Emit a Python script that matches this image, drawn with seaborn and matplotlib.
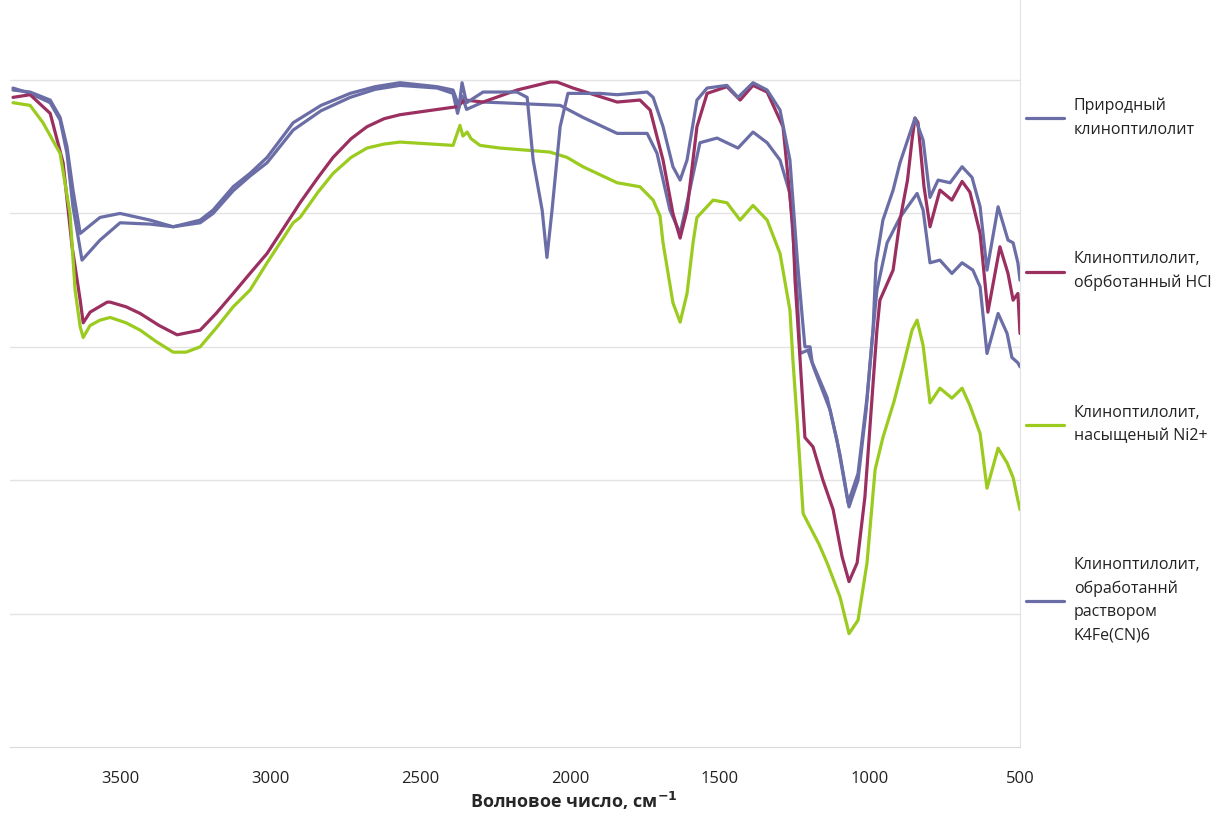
import pandas as pd
import numpy as np
import matplotlib
matplotlib.use('Agg')
import matplotlib.pyplot as plt
import seaborn as sns

# ==================== данные (волновое число, пропускание) ====================
wn_ni = [3857, 3800, 3757, 3700, 3667, 3650, 3633, 3623, 3600, 3567, 3533, 3480, 3433, 3380,
         3323, 3280, 3233, 3180, 3123, 3067, 3010, 2923, 2900, 2840, 2790, 2730, 2677, 2620,
         2567, 2390, 2367, 2357, 2343, 2330, 2300, 2233, 2067, 2010, 1957, 1843, 1767, 1723,
         1700, 1690, 1657, 1633, 1610, 1590, 1577, 1523, 1477, 1433, 1390, 1343, 1300, 1267,
         1257, 1243, 1223, 1200, 1170, 1143, 1100, 1070, 1040, 1010, 983, 957, 920, 890, 860,
         843, 823, 800, 767, 727, 693, 667, 633, 610, 573, 543, 523, 507, 500]
t_ni = [48.3, 48.1, 46.8, 44.5, 40.0, 34.25, 31.5, 30.7, 31.6, 32.0, 32.2, 31.8, 31.25, 30.4,
        29.6, 29.6, 30.0, 31.4, 33.0, 34.25, 36.3, 39.3, 39.7, 41.6, 43.0, 44.2, 44.9, 45.2,
        45.35, 45.1, 46.6, 45.8, 46.1, 45.6, 45.1, 44.9, 44.6, 44.2, 43.5, 42.3, 42.0, 41.0,
        39.8, 37.8, 33.3, 31.85, 34.0, 37.8, 39.7, 41.0, 40.8, 39.5, 40.6, 39.5, 37.0, 32.75,
        29.0, 24.5, 17.5, 16.5, 15.2, 13.8, 11.25, 8.5, 9.5, 13.8, 20.8, 23.2, 25.9, 28.5,
        31.25, 32.0, 30.1, 25.8, 26.9, 26.15, 26.9, 25.6, 23.5, 19.4, 22.4, 21.3, 20.2, 18.5,
        17.8]

wn_hcl = [3857, 3800, 3733, 3690, 3660, 3633, 3623, 3600, 3543, 3533, 3480, 3433, 3370, 3310,
          3233, 3180, 3123, 3067, 3010, 2923, 2900, 2840, 2790, 2730, 2677, 2620, 2567, 2457,
          2377, 2350, 2290, 2177, 2067, 2043, 1990, 1843, 1767, 1733, 1690, 1657, 1633, 1610,
          1577, 1543, 1477, 1433, 1390, 1343, 1290, 1257, 1250, 1233, 1217, 1190, 1157, 1123,
          1093, 1070, 1043, 1017, 997, 977, 967, 923, 900, 875, 860, 850, 840, 820, 800, 767,
          727, 693, 667, 633, 607, 567, 540, 523, 507, 500]
t_hcl = [48.7, 48.9, 47.5, 43.8, 37.5, 33.5, 31.8, 32.6, 33.35, 33.35, 33.0, 32.5, 31.6, 30.9,
         31.25, 32.5, 34.0, 35.5, 37.0, 40.0, 40.8, 42.7, 44.2, 45.6, 46.5, 47.1, 47.4, 47.75,
         48.0, 48.5, 48.35, 49.25, 49.85, 49.85, 49.4, 48.35, 48.5, 47.75, 44.0, 40.0, 38.15,
         40.25, 46.5, 49.0, 49.5, 48.5, 49.6, 49.1, 46.5, 39.0, 35.0, 29.0, 23.2, 22.5, 20.0,
         17.8, 14.25, 12.4, 13.8, 18.75, 25.0, 31.25, 33.5, 35.75, 39.5, 42.5, 45.5, 47.15,
         46.8, 42.0, 39.0, 41.75, 41.0, 42.4, 41.6, 38.5, 32.6, 37.5, 35.5, 33.5, 34.0, 31.0]

wn_cn = [3857, 3800, 3733, 3700, 3677, 3657, 3633, 3567, 3500, 3400, 3323, 3233, 3190, 3123,
         3067, 3010, 2923, 2830, 2733, 2650, 2567, 2443, 2390, 2370, 2360, 2345, 2290, 2177,
         2143, 2123, 2093, 2077, 2060, 2033, 2007, 1900, 1843, 1743, 1723, 1690, 1657, 1633,
         1610, 1577, 1543, 1477, 1440, 1390, 1343, 1300, 1267, 1243, 1227, 1217, 1200, 1193,
         1143, 1110, 1073, 1040, 1010, 990, 980, 957, 923, 900, 850, 823, 800, 773, 733, 693,
         660, 633, 610, 573, 540, 523, 507, 500]
t_cn = [49.25, 49.1, 48.5, 47.2, 45.0, 41.75, 38.5, 39.7, 40.0, 39.5, 39.0, 39.5, 40.25, 42.0,
        43.0, 44.2, 46.8, 48.1, 49.0, 49.5, 49.8, 49.5, 49.25, 48.0, 49.8, 48.3, 49.1, 49.1,
        48.7, 44.0, 40.25, 36.7, 40.25, 46.5, 49.0, 49.0, 48.9, 49.1, 48.7, 46.5, 43.5, 42.5,
        44.0, 48.5, 49.4, 49.6, 48.7, 49.8, 49.25, 47.75, 44.0, 36.7, 32.5, 30.0, 30.0, 28.85,
        26.2, 23.0, 18.3, 20.5, 26.2, 31.25, 36.3, 39.5, 41.75, 43.8, 47.15, 45.5, 41.2, 42.5,
        42.3, 43.5, 42.7, 40.5, 35.75, 40.5, 38.0, 37.8, 36.3, 35.0]

wn_nat = [3857, 3800, 3733, 3700, 3677, 3657, 3627, 3567, 3500, 3400, 3323, 3233, 3190, 3123,
          3067, 3010, 2923, 2830, 2733, 2650, 2567, 2443, 2390, 2375, 2360, 2345, 2290, 2233,
          2033, 1957, 1843, 1743, 1710, 1667, 1633, 1610, 1567, 1510, 1440, 1390, 1343, 1300,
          1267, 1243, 1233, 1207, 1187, 1133, 1100, 1070, 1040, 1013, 993, 977, 943, 900, 843,
          823, 800, 767, 727, 693, 657, 633, 610, 573, 543, 527, 507, 500]
t_nat = [49.4, 49.0, 48.3, 47.0, 44.5, 40.5, 36.5, 38.0, 39.3, 39.2, 39.0, 39.3, 40.0, 41.7,
         42.8, 43.8, 46.25, 47.7, 48.7, 49.3, 49.6, 49.4, 49.0, 47.5, 48.8, 47.8, 48.35, 48.3,
         48.1, 47.2, 46.0, 46.0, 44.5, 40.25, 38.5, 40.8, 45.3, 45.65, 44.9, 46.1, 45.3, 44.0,
         41.5, 34.0, 29.5, 29.75, 28.4, 25.25, 21.9, 18.0, 20.0, 25.25, 30.5, 34.25, 37.8, 39.7,
         41.5, 40.25, 36.3, 36.5, 35.5, 36.3, 35.75, 34.5, 29.5, 32.5, 31.0, 29.2, 28.8, 28.5]

labels = ['Природный\nклиноптилолит',
          'Клиноптилолит,\nобрботанный HCl',
          'Клиноптилолит,\nнасыщеный Ni2+',
          'Клиноптилолит,\nобработаннй\nраствором\nK4Fe(CN)6']
colors = ['#6b6ea6', '#9a2f60', '#9bcb1f', '#6b6ea6']

frames = []
for lab, wn, t in zip(labels, [wn_nat, wn_hcl, wn_ni, wn_cn], [t_nat, t_hcl, t_ni, t_cn]):
    frames.append(pd.DataFrame({'wn': wn, 't': t, 'образец': lab}))
df = pd.concat(frames, ignore_index=True)

# ==================== график ====================
sns.set_style('white')
plt.rcParams['font.family'] = ['Open Sans', 'DejaVu Sans']

fig = plt.figure(figsize=(12.31, 8.18), dpi=100)
ax = fig.add_axes([10 / 1231, 71 / 818, 1010 / 1231, 747 / 818])

sns.lineplot(data=df, x='wn', y='t', hue='образец', hue_order=labels,
             palette=dict(zip(labels, colors)), sort=False, estimator=None,
             linewidth=2.3, ax=ax, legend=False)

ax.set_xlim(3867, 500)
ax.set_ylim(0, 56)
ax.set_yticks([10, 20, 30, 40, 50])
ax.set_yticklabels([])
ax.tick_params(axis='y', length=0)
ax.grid(axis='y', color='#e3e3e3', linewidth=1)
ax.set_axisbelow(True)

ax.set_xticks([3500, 3000, 2500, 2000, 1500, 1000, 500])
ax.tick_params(axis='x', length=6, width=1, color='#d0d0d0', pad=11, labelsize=12,
               labelcolor='#222222')

for side in ['top', 'left']:
    ax.spines[side].set_visible(False)
ax.spines['bottom'].set_color('#d9d9d9')
ax.spines['right'].set_color('#e3e3e3')

ax.set_xlabel('Волновое число, см$^{\\mathbf{-1}}$', fontsize=13, fontweight='bold')
ax.xaxis.set_label_coords(0.558, -0.058)
ax.set_ylabel('')

handles = [plt.Line2D([], [], color=c, linewidth=2.3) for c in colors]
leg = fig.legend(handles, labels, loc='upper left', bbox_to_anchor=(1026 / 1231, 1 - 98 / 818),
                 frameon=False, fontsize=11.5, labelspacing=7.1, handlelength=2.4,
                 handletextpad=0.6, borderpad=0, borderaxespad=0)
for txt in leg.get_texts():
    txt.set_linespacing(1.6)
    txt.set_color('#222222')

plt.savefig('out.png', dpi=100)
